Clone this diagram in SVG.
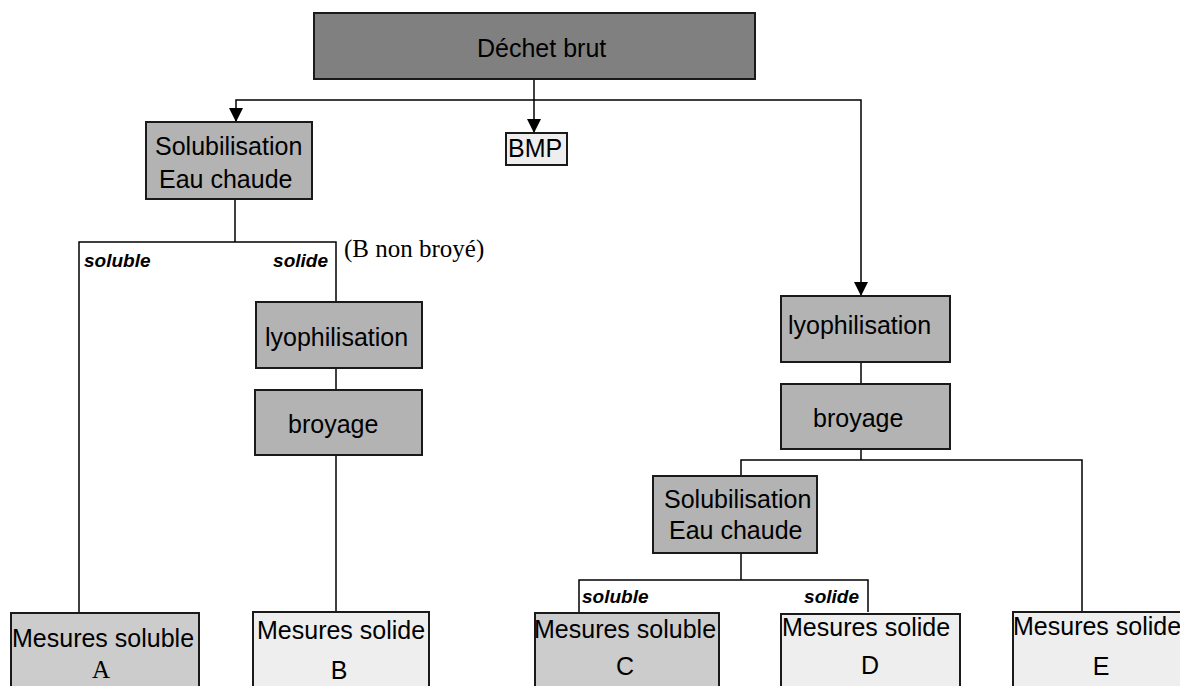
<svg xmlns="http://www.w3.org/2000/svg" width="1180" height="686" viewBox="0 0 1180 686">
<style>
.box{stroke:#1a1a1a;stroke-width:2}
.dark{fill:#808080}
.mid{fill:#b3b3b3}
.sol{fill:#cccccc}
.light{fill:#eeeeee}
.t{font-family:"Liberation Sans",Arial,sans-serif;font-size:25px;fill:#000}
.s{font-family:"Liberation Serif","Times New Roman",serif;font-size:25px;fill:#000}
.lbl{font-family:"Liberation Sans",Arial,sans-serif;font-size:19px;font-weight:bold;font-style:italic;fill:#000}
.c{text-anchor:middle}
.e{text-anchor:end}
.ln{fill:none;stroke:#000;stroke-width:1.5}
</style>
<defs>
<marker id="arr" viewBox="0 0 14 14" refX="14" refY="7" markerWidth="14" markerHeight="14" markerUnits="userSpaceOnUse" orient="auto">
<path d="M0,0 L14,7 L0,14 z" fill="#000"/>
</marker>
</defs>
<rect width="1180" height="686" fill="#fff"/>
<g id="connectors">
<path class="ln" d="M534,79 V133" marker-end="url(#arr)"/>
<path class="ln" d="M534,100 H236 V122" marker-end="url(#arr)"/>
<path class="ln" d="M534,100 H861 V296" marker-end="url(#arr)"/>
<path class="ln" d="M235,199 V242"/>
<path class="ln" d="M79,612 V242 H336 V302"/>
<path class="ln" d="M336,368 V390"/>
<path class="ln" d="M336,455 V612"/>
<path class="ln" d="M861,362 V384"/>
<path class="ln" d="M861,449 V460"/>
<path class="ln" d="M741,476 V460 H1082 V612"/>
<path class="ln" d="M741,553 V580"/>
<path class="ln" d="M579,613 V580 H868 V612"/>
</g>
<g id="dechet">
<rect class="box dark" x="314" y="13" width="441" height="66"/>
<text class="t" x="477" y="57">Déchet brut</text>
</g>
<g id="bmp">
<rect class="box light" x="506" y="133" width="61" height="32"/>
<text class="t" x="508" y="157">BMP</text>
</g>
<g id="solub1">
<rect class="box mid" x="146" y="122" width="166" height="77"/>
<text class="t" x="155" y="155">Solubilisation</text>
<text class="t" x="159" y="188">Eau chaude</text>
</g>
<g id="labels1">
<text class="lbl" x="84" y="267">soluble</text>
<text class="lbl e" x="328" y="267">solide</text>
<text class="s" x="344" y="257">(B non broyé)</text>
</g>
<g id="lyo1">
<rect class="box mid" x="256" y="302" width="166" height="66"/>
<text class="t" x="265" y="346">lyophilisation</text>
</g>
<g id="broy1">
<rect class="box mid" x="255" y="390" width="167" height="65"/>
<text class="t" x="288" y="433">broyage</text>
</g>
<g id="lyo2">
<rect class="box mid" x="781" y="296" width="169" height="66"/>
<text class="t" x="788" y="334">lyophilisation</text>
</g>
<g id="broy2">
<rect class="box mid" x="781" y="384" width="169" height="65"/>
<text class="t" x="813" y="427">broyage</text>
</g>
<g id="solub2">
<rect class="box mid" x="653" y="476" width="164" height="77"/>
<text class="t" x="664" y="508">Solubilisation</text>
<text class="t" x="669" y="539">Eau chaude</text>
</g>
<g id="labels2">
<text class="lbl" x="582" y="603">soluble</text>
<text class="lbl e" x="859" y="603">solide</text>
</g>
<g id="mesA">
<rect class="box sol" x="11" y="613" width="188" height="90"/>
<text class="t" x="12" y="647">Mesures soluble</text>
<text class="s c" x="101" y="678">A</text>
</g>
<g id="mesB">
<rect class="box light" x="253" y="612" width="176" height="90"/>
<text class="t" x="257" y="639">Mesures solide</text>
<text class="t c" x="339" y="679">B</text>
</g>
<g id="mesC">
<rect class="box sol" x="535" y="613" width="184" height="90"/>
<text class="t" x="534" y="638">Mesures soluble</text>
<text class="t c" x="625" y="675">C</text>
</g>
<g id="mesD">
<rect class="box light" x="781" y="614" width="179" height="90"/>
<text class="t" x="782" y="636">Mesures solide</text>
<text class="t c" x="870" y="674">D</text>
</g>
<g id="mesE">
<rect class="box light" x="1013" y="612" width="180" height="90"/>
<text class="t" x="1013" y="635">Mesures solide</text>
<text class="t c" x="1101" y="675">E</text>
</g>
</svg>
